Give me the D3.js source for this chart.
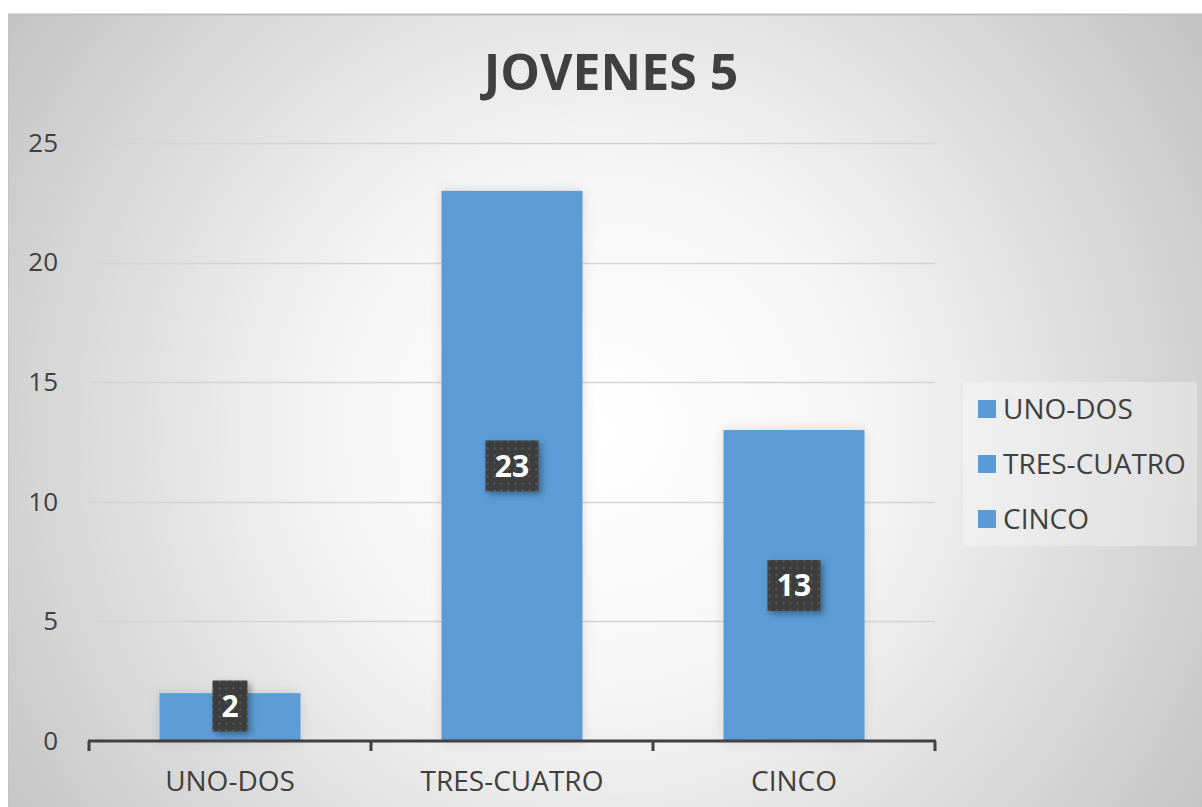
<!DOCTYPE html>
<html>
<head>
<meta charset="utf-8">
<script src="https://cdn.jsdelivr.net/npm/d3@7"></script>
<style>
  html, body { margin: 0; padding: 0; background: #ffffff; }
  svg { display: block; }
  text { font-family: "Open Sans", "Noto Sans", sans-serif; }
</style>
</head>
<body>
<svg id="chart" width="1202" height="807"></svg>
<script>
// Chart data
const categories = ["UNO-DOS", "TRES-CUATRO", "CINCO"];
const values = [2, 23, 13];
const yTicks = [0, 5, 10, 15, 20, 25];
const legendLabels = ["UNO-DOS", "TRES-CUATRO", "CINCO"];
const title = "JOVENES 5";

const W = 1202, H = 807;
const frame = { x: 8, y: 14, w: 1194, h: 793 };
const plot = { left: 89, right: 935, top: 143, bottom: 741 };
const barColor = "#5b9bd5";
const textColor = "#404040";

const svg = d3.select("#chart");
const defs = svg.append("defs");

// Background: soft radial gradient, white in the middle, gray towards the corners
const bg = defs.append("radialGradient")
  .attr("id", "bgGrad")
  .attr("gradientUnits", "userSpaceOnUse")
  .attr("cx", 600).attr("cy", 430).attr("r", 720);
bg.append("stop").attr("offset", "0%").attr("stop-color", "#ffffff");
bg.append("stop").attr("offset", "38%").attr("stop-color", "#f5f5f5");
bg.append("stop").attr("offset", "100%").attr("stop-color", "#c4c4c4");

// Soft glow behind bars
const glow = defs.append("filter").attr("id", "barGlow")
  .attr("x", "-20%").attr("y", "-20%").attr("width", "140%").attr("height", "140%");
glow.append("feDropShadow").attr("dx", 0).attr("dy", 0)
  .attr("stdDeviation", 6).attr("flood-color", "#000").attr("flood-opacity", 0.12);

// Drop shadow under data-label boxes
const lblShadow = defs.append("filter").attr("id", "lblShadow")
  .attr("x", "-30%").attr("y", "-30%").attr("width", "170%").attr("height", "170%");
lblShadow.append("feDropShadow").attr("dx", 3).attr("dy", 3)
  .attr("stdDeviation", 3).attr("flood-color", "#000").attr("flood-opacity", 0.35);

// Dotted texture for the label boxes
const pat = defs.append("pattern").attr("id", "dots")
  .attr("patternUnits", "userSpaceOnUse").attr("width", 7).attr("height", 7);
pat.append("rect").attr("width", 7).attr("height", 7).attr("fill", "#3d3d3d");
pat.append("circle").attr("cx", 3.5).attr("cy", 3.5).attr("r", 1.2).attr("fill", "#555555");

// Chart area
svg.append("rect")
  .attr("x", frame.x).attr("y", frame.y)
  .attr("width", frame.w).attr("height", frame.h)
  .attr("fill", "url(#bgGrad)");
svg.append("line")
  .attr("x1", frame.x).attr("x2", frame.x + frame.w)
  .attr("y1", frame.y + 0.5).attr("y2", frame.y + 0.5)
  .attr("stroke", "#bdbdbd").attr("stroke-width", 2);
svg.append("line")
  .attr("x1", frame.x + 0.5).attr("x2", frame.x + 0.5)
  .attr("y1", frame.y).attr("y2", frame.y + frame.h)
  .attr("stroke", "#c4c4c4").attr("stroke-width", 1);

// Scales
const x = d3.scaleBand().domain(categories)
  .range([plot.left, plot.right]).paddingInner(0.5).paddingOuter(0.25);
const y = d3.scaleLinear().domain([0, 25]).range([plot.bottom, plot.top]);

// Gridlines
svg.append("g").selectAll("line").data(yTicks.filter(d => d > 0)).join("line")
  .attr("x1", plot.left).attr("x2", plot.right)
  .attr("y1", d => Math.round(y(d)) + 0.5).attr("y2", d => Math.round(y(d)) + 0.5)
  .attr("stroke", "#d4d4d4").attr("stroke-width", 1.3);

// Y axis labels
const yAxis = d3.axisLeft(y).tickValues(yTicks).tickSize(0).tickPadding(31);
const gy = svg.append("g").attr("transform", `translate(${plot.left},0)`).call(yAxis);
gy.select(".domain").remove();
gy.selectAll("text")
  .attr("fill", textColor).style("font-size", "26px")
  .style("font-family", '"Open Sans", sans-serif');

// Bars
svg.append("g").selectAll("rect").data(values).join("rect")
  .attr("x", (d, i) => x(categories[i]))
  .attr("width", x.bandwidth())
  .attr("y", d => y(d))
  .attr("height", d => y(0) - y(d))
  .attr("fill", barColor)
  .attr("filter", "url(#barGlow)");

// X axis: baseline with category separator ticks
const xAxisG = svg.append("g").attr("transform", `translate(0,${plot.bottom})`);
const sepPositions = d3.range(categories.length + 1).map(i => plot.left + i * (plot.right - plot.left) / categories.length);
xAxisG.append("line")
  .attr("x1", plot.left - 1).attr("x2", plot.right + 1)
  .attr("y1", 0).attr("y2", 0)
  .attr("stroke", textColor).attr("stroke-width", 3);
xAxisG.selectAll("line.sep").data(sepPositions).join("line")
  .attr("class", "sep")
  .attr("x1", d => d).attr("x2", d => d)
  .attr("y1", 0).attr("y2", 10)
  .attr("stroke", textColor).attr("stroke-width", 3);
xAxisG.selectAll("text").data(categories).join("text")
  .attr("x", d => x(d) + x.bandwidth() / 2)
  .attr("y", 50)
  .attr("text-anchor", "middle")
  .attr("fill", textColor)
  .style("font-size", "28px")
  .text(d => d);

// Data labels
const lblG = svg.append("g").selectAll("g").data(values).join("g")
  .attr("transform", (d, i) => {
    const cx = x(categories[i]) + x.bandwidth() / 2;
    const cy = Math.min(y(d / 2), plot.bottom - 35);
    return `translate(${cx},${cy})`;
  });
lblG.append("rect")
  .attr("x", d => -(String(d).length * 18 + 17) / 2)
  .attr("width", d => String(d).length * 18 + 17)
  .attr("y", -25.5).attr("height", 51)
  .attr("fill", "url(#dots)")
  .attr("filter", "url(#lblShadow)");
lblG.append("text")
  .attr("text-anchor", "middle")
  .attr("dy", "0.36em")
  .attr("fill", "#ffffff")
  .style("font-size", "30px")
  .style("font-weight", "700")
  .text(d => d);

// Title
svg.append("text")
  .attr("x", 611).attr("y", 90)
  .attr("text-anchor", "middle")
  .attr("fill", textColor)
  .style("font-size", "50px")
  .style("font-weight", "700")
  .text(title);

// Legend
const legend = svg.append("g");
legend.append("rect")
  .attr("x", 963).attr("y", 382).attr("width", 234).attr("height", 164)
  .attr("fill", "#ffffff").attr("fill-opacity", 0.3);
const li = legend.selectAll("g.item").data(legendLabels).join("g")
  .attr("class", "item")
  .attr("transform", (d, i) => `translate(978,${409 + i * 55})`);
li.append("rect")
  .attr("x", 0).attr("y", -9).attr("width", 18).attr("height", 18)
  .attr("fill", barColor);
li.append("text")
  .attr("x", 25).attr("dy", "0.36em")
  .attr("fill", textColor)
  .style("font-size", "28px")
  .text(d => d);
</script>
</body>
</html>
